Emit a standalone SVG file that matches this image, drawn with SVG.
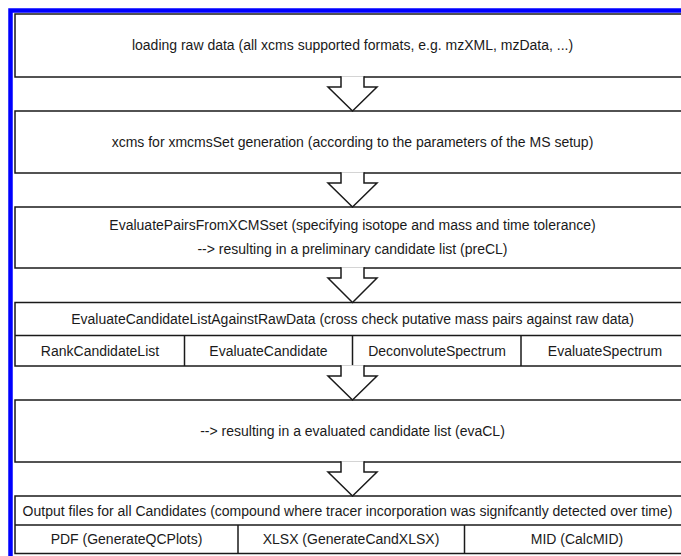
<svg xmlns="http://www.w3.org/2000/svg" width="681" height="556" viewBox="0 0 681 556">
<style>
.box{fill:#fff;stroke:#1a1a1a;stroke-width:1.5}
.ln{stroke:#1a1a1a;stroke-width:1.5;fill:none}
.arr{fill:#fff;stroke:#1a1a1a;stroke-width:1.5;stroke-linejoin:miter}
text{font-family:"Liberation Sans",Arial,sans-serif;font-size:14px;fill:#1a1a1a;text-anchor:middle;dominant-baseline:central}
</style>
<rect x="0" y="0" width="681" height="556" fill="#fff"/>
<rect x="10.5" y="10.5" width="700" height="600" fill="none" stroke="#0000ff" stroke-width="4.5"/>
<g id="n1"><rect class="box" x="15" y="14" width="680" height="63"/><text x="352.5" y="45">loading raw data (all xcms supported formats, e.g. mzXML, mzData, ...)</text></g>
<g id="n2"><rect class="box" x="15" y="111" width="680" height="62"/><text x="352.5" y="142">xcms for xmcmsSet generation (according to the parameters of the MS setup)</text></g>
<g id="n3"><rect class="box" x="15" y="207" width="680" height="61"/><text x="352.5" y="225">EvaluatePairsFromXCMSset (specifying isotope and mass and time tolerance)</text><text x="352.5" y="249">--&gt; resulting in a preliminary candidate list (preCL)</text></g>
<g id="n4"><rect class="box" x="15" y="302.5" width="680" height="63.5"/><line class="ln" x1="15" y1="335.5" x2="695" y2="335.5"/><line class="ln" x1="184.5" y1="335.5" x2="184.5" y2="366"/><line class="ln" x1="352.5" y1="335.5" x2="352.5" y2="366"/><line class="ln" x1="521" y1="335.5" x2="521" y2="366"/><text x="352.5" y="319">EvaluateCandidateListAgainstRawData (cross check putative mass pairs against raw data)</text><text x="100" y="351">RankCandidateList</text><text x="268.5" y="351">EvaluateCandidate</text><text x="437" y="351">DeconvoluteSpectrum</text><text x="605" y="351">EvaluateSpectrum</text></g>
<g id="n5"><rect class="box" x="15" y="400" width="680" height="62"/><text x="352.5" y="431">--&gt; resulting in a evaluated candidate list (evaCL)</text></g>
<g id="n6"><rect class="box" x="15" y="496" width="680" height="57.5"/><line class="ln" x1="15" y1="525" x2="695" y2="525"/><line class="ln" x1="238" y1="525" x2="238" y2="553.5"/><line class="ln" x1="464.5" y1="525" x2="464.5" y2="553.5"/><text x="347.5" y="510.5">Output files for all Candidates (compound where tracer incorporation was signifcantly detected over time)</text><text x="126.5" y="539">PDF (GenerateQCPlots)</text><text x="351" y="539">XLSX (GenerateCandXLSX)</text><text x="577" y="539">MID (CalcMID)</text></g>
<g id="connectors">
<path class="arr" d="M341,76.2 V87 H328 L352.5,111 L377,87 H364 V76.2"/>
<path class="arr" d="M341,172.2 V183 H328 L352.5,207 L377,183 H364 V172.2"/>
<path class="arr" d="M341,267.2 V278 H328 L352.5,302.5 L377,278 H364 V267.2"/>
<path class="arr" d="M341,365.2 V376 H328 L352.5,400 L377,376 H364 V365.2"/>
<path class="arr" d="M341,461.2 V472 H328 L352.5,496 L377,472 H364 V461.2"/>
</g>
</svg>
